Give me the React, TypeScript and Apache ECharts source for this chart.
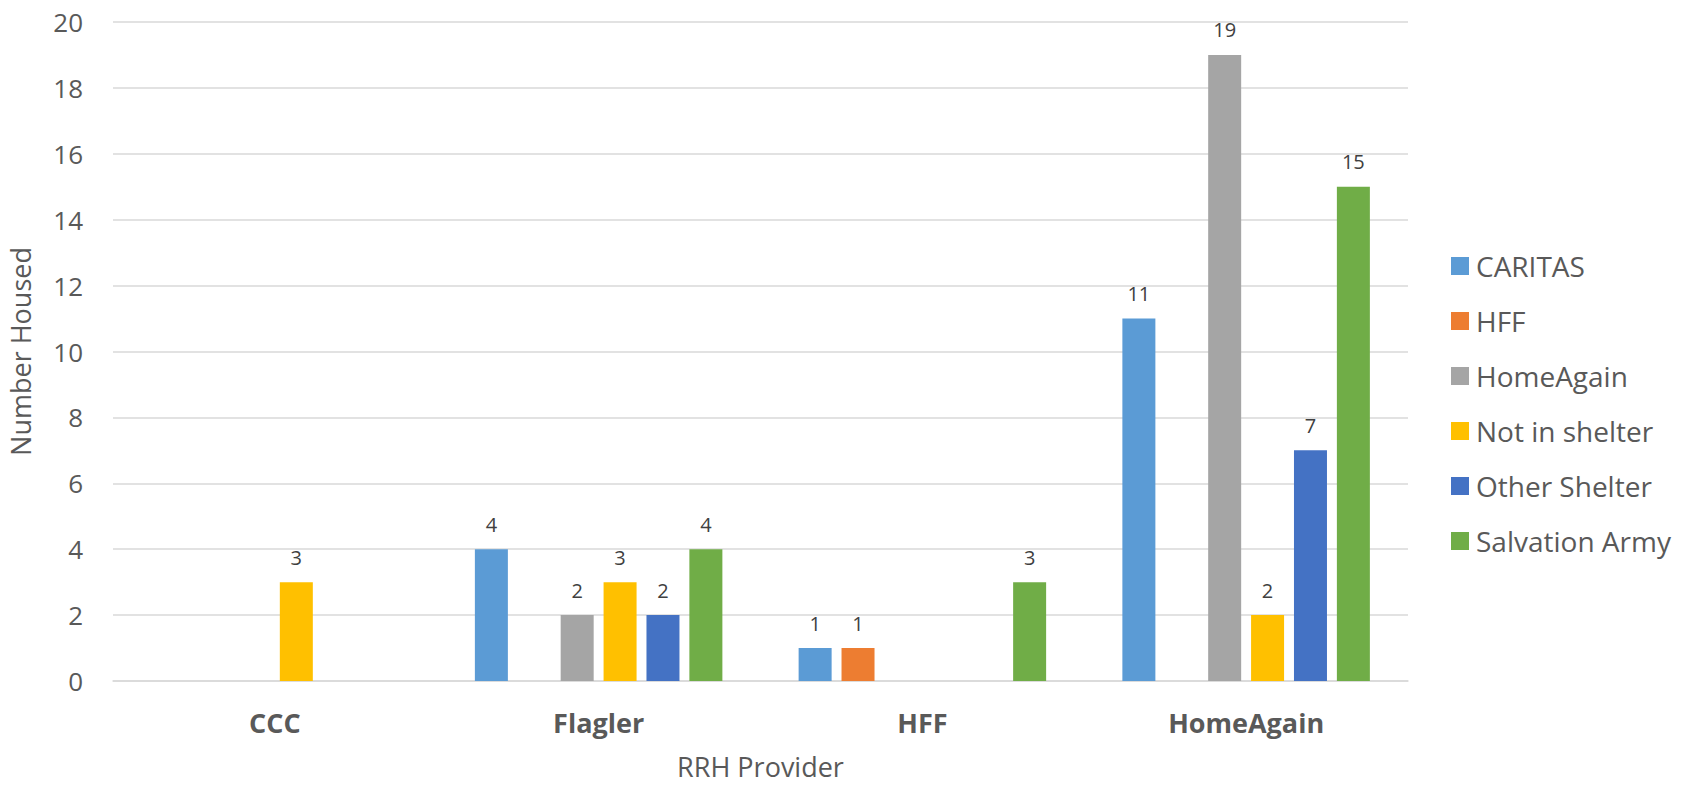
import React, { useEffect, useRef } from "react";
import * as echarts from "echarts";

const categories = ["CCC", "Flagler", "HFF", "HomeAgain"];
const seriesNames = ["CARITAS", "HFF", "HomeAgain", "Not in shelter", "Other Shelter", "Salvation Army"];
const caritas = [null, 4, 1, 11];
const hff = [null, null, 1, null];
const homeAgain = [null, 2, null, 19];
const notInShelter = [3, 3, null, 2];
const otherShelter = [null, 2, null, 7];
const salvationArmy = [null, 4, 3, 15];
const seriesValues = [caritas, hff, homeAgain, notInShelter, otherShelter, salvationArmy];
const colors = ["#5B9BD5", "#ED7D31", "#A5A5A5", "#FFC000", "#4472C4", "#70AD47"];
const yTicks = { min: 0, max: 20, interval: 2 };

const FONT = "'Open Sans', 'Noto Sans', sans-serif";

export default function App() {
  const ref = useRef<HTMLDivElement>(null);
  useEffect(() => {
    if (!ref.current) return;
    const chart = echarts.init(ref.current, null, { renderer: "svg" });
    chart.setOption({
      animation: false,
      textStyle: { fontFamily: FONT },
      grid: {
        left: 113,
        right: 280,
        top: 22,
        bottom: 104,
        containLabel: false,
        outerBoundsMode: "none",
      },
      legend: {
        orient: "vertical",
        left: 1446,
        top: 247,
        itemWidth: 18,
        itemHeight: 18,
        itemGap: 27,
        icon: "rect",
        textStyle: { fontSize: 28, color: "#595959", fontFamily: FONT, padding: [0, 0, 0, 2] },
        data: seriesNames,
      },
      xAxis: {
        type: "category",
        data: categories,
        name: "RRH Provider",
        nameLocation: "middle",
        nameGap: 72,
        nameTextStyle: { fontSize: 27, lineHeight: 27, color: "#595959", fontFamily: FONT },
        axisLine: { show: true, lineStyle: { color: "#D9D9D9", width: 1.5 } },
        axisTick: { show: false },
        axisLabel: { fontSize: 27, fontWeight: "bold", color: "#595959", margin: 28, fontFamily: FONT },
      },
      yAxis: {
        type: "value",
        min: yTicks.min,
        max: yTicks.max,
        interval: yTicks.interval,
        name: "Number Housed",
        nameLocation: "middle",
        nameGap: 79,
        nameRotate: 90,
        nameTextStyle: { fontSize: 27, lineHeight: 27, color: "#595959", fontFamily: FONT },
        axisLine: { show: false },
        axisTick: { show: false },
        axisLabel: { fontSize: 26, color: "#595959", margin: 30, fontFamily: FONT },
        splitLine: { lineStyle: { color: "#D9D9D9", width: 1.5 } },
      },
      series: seriesNames.map((name, i) => ({
        name,
        type: "bar",
        data: seriesValues[i],
        barWidth: 33,
        barGap: "30%",
        itemStyle: { color: colors[i] },
        label: {
          show: true,
          position: "top",
          distance: 15,
          fontSize: 20,
          color: "#404040",
          fontFamily: FONT,
        },
      })),
    });
    return () => chart.dispose();
  }, []);
  return (
    <div
      ref={ref}
      style={{ position: "absolute", left: 0, top: 0, width: 1688, height: 785 }}
    />
  );
}
